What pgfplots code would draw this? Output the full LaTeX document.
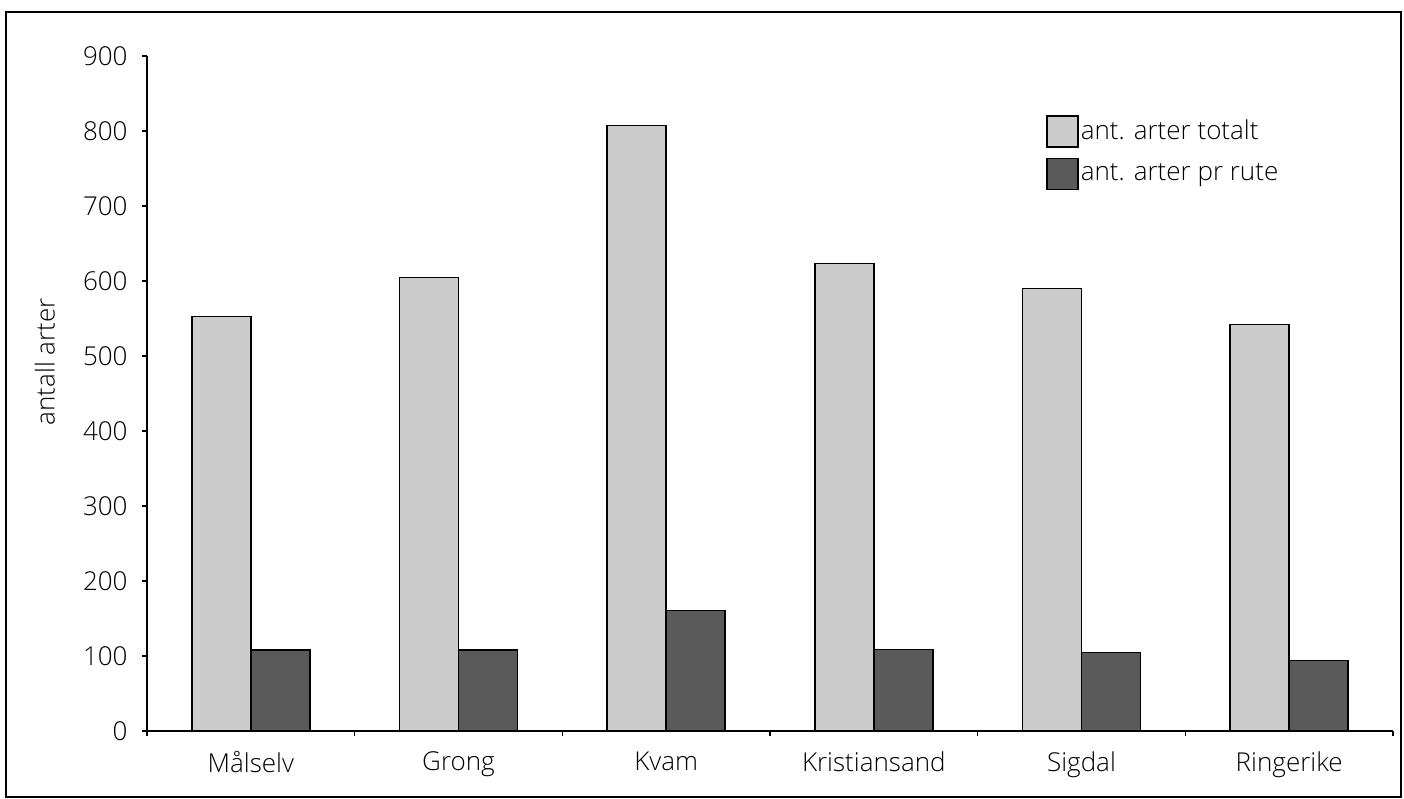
\documentclass[border=0pt]{standalone}
\usepackage{pgfplots}
\pgfplotsset{compat=1.18}
\usepackage{fontspec}
\setmainfont{Open Sans Light}
\definecolor{lightbar}{HTML}{CCCCCC}
\definecolor{darkbar}{HTML}{5A5A5A}
\begin{document}
\fontsize{13bp}{15bp}\selectfont
\begin{tikzpicture}
\path (-73.5bp,-34bp) rectangle (628.5bp,365.5bp);
\draw[line width=0.6bp] (-70.5bp,-33bp) rectangle (627bp,359.5bp);
\begin{axis}[
  at={(0,0)}, anchor=south west,
  scale only axis, width=623bp, height=337.5bp,
  ybar=0pt, bar width=29.5bp,
  ymin=0, ymax=900, ytick={0,100,...,900},
  xmin=-0.5, xmax=5.5,
  xtick={-0.5,0.5,...,5.5}, xticklabels={},
  extra x ticks={0,1,2,3,4,5},
  extra x tick labels={Målselv,Grong,Kvam,Kristiansand,Sigdal,Ringerike},
  extra x tick style={major tick length=0pt, xticklabel style={yshift=-5.7bp}},
  axis x line*=bottom, axis y line*=left,
  axis line style={line width=0.8bp, -},
  tick align=outside, major tick length=2.5bp,
  tick style={line width=0.8bp, black},
  /pgf/number format/assume math mode=true,
  tick label style={font=\fontsize{13bp}{15bp}\selectfont},
  yticklabel style={xshift=-2.7bp},
  ylabel={antall arter},
  ylabel style={at={(axis description cs:-0.082,0.547)}, anchor=center, font=\fontsize{13bp}{15bp}\selectfont},
  legend style={draw=none, fill=none, at={(axis description cs:0.7215,0.9126)}, anchor=north west,
    font=\fontsize{13bp}{15bp}\selectfont, row sep=5bp, inner sep=0pt,
    nodes={inner sep=1bp}},
  legend cell align=left,
  legend image code/.code={\draw[#1,draw=black,line width=0.7bp] (0bp,-7.75bp) rectangle (15.5bp,7.75bp);},
]
\addplot[fill=lightbar, draw=black, line width=0.7bp] coordinates {(0,553) (1,605) (2,807) (3,623) (4,590) (5,542)};
\addplot[fill=darkbar, draw=black, line width=0.7bp] coordinates {(0,108) (1,108) (2,161) (3,109) (4,105) (5,94)};
\legend{ant. arter totalt, ant. arter pr rute}
\end{axis}
\end{tikzpicture}
\end{document}
